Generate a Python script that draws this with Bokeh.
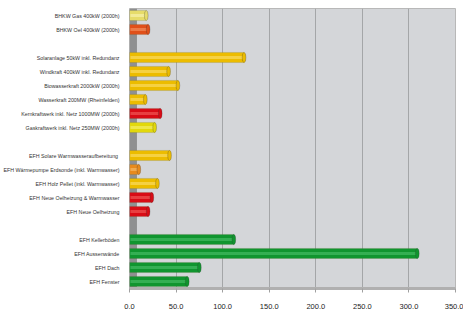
from bokeh.plotting import figure
from bokeh.models import FactorRange, BoxAnnotation, ColumnDataSource, FixedTicker
from bokeh.embed import file_html
from bokeh.resources import INLINE

categories = [
    "BHKW Gas 400kW (2000h)",
    "BHKW Oel 400kW (2000h)",
    " ",
    "Solaranlage 50kW inkl. Redundanz",
    "Windkraft 400kW inkl. Redundanz",
    "Biowasserkraft 2000kW (2000h)",
    "Wasserkraft 200MW (Rheinfelden)",
    "Kernkraftwerk inkl. Netz 1000MW (2000h)",
    "Gaskraftwerk inkl. Netz 250MW (2000h)",
    "  ",
    "EFH Solare  Warmwasseraufbereitung",
    "EFH Wärmepumpe Erdsonde (inkl. Warmwasser)",
    "EFH Holz Pellet (inkl. Warmwasser)",
    "EFH Neue Oelheizung & Warmwasser",
    "EFH Neue Oelheizung",
    "   ",
    "EFH Kellerböden",
    "EFH Aussenwände",
    "EFH Dach",
    "EFH Fenster",
]
values = [18, 20, None, 123, 42, 52, 17, 33, 27, None,
          43, 10, 30, 24, 20, None, 112, 309, 75, 62]
colors = ["#e6dc6a", "#e0501a", None, "#ecbc00", "#ecbc00", "#ecbc00", "#ecbc00",
          "#d80c16", "#e2d80c", None, "#ecbc00", "#e88a1c", "#ecbc00", "#d80c16",
          "#d80c16", None, "#10952f", "#10952f", "#10952f", "#10952f"]
highlights = ["#f6f0a8", "#f08a5a", None, "#f8d85a", "#f8d85a", "#f8d85a", "#f8d85a",
              "#ee5050", "#f2ec60", None, "#f8d85a", "#f4b460", "#f8d85a", "#ee5050",
              "#ee5050", None, "#40b860", "#40b860", "#40b860", "#40b860"]
x_ticks = [0, 50, 100, 150, 200, 250, 300, 350]

cats, vals, cols, hls = [], [], [], []
for c, v, col, h in zip(categories, values, colors, highlights):
    if v is not None:
        cats.append(c); vals.append(v); cols.append(col); hls.append(h)
src = ColumnDataSource(dict(cat=cats, val=vals, col=cols, hl=hls))

p = figure(width=463, height=311, output_backend="svg", toolbar_location=None,
           y_range=FactorRange(factors=list(reversed(categories)), range_padding=0),
           x_range=(0, 350), min_border_left=128, min_border_right=8,
           min_border_top=8, min_border_bottom=0)

p.background_fill_color = "#d4d6d9"
p.border_fill_color = "white"
p.outline_line_color = "#b8b8b8"

p.add_layout(BoxAnnotation(left=0, right=8, fill_color="#8f9091", fill_alpha=1,
                           line_color=None, level="underlay"))

p.hbar(y="cat", left=0, right="val", height=0.72, source=src,
       fill_color="col", line_color="#5a5a30", line_alpha=0.35, line_width=0.5)
p.hbar(y="cat", left=1, right="val", height=0.2, source=src,
       fill_color="hl", line_color=None, fill_alpha=0.75)
p.ellipse(x="val", y="cat", width=4, height=0.72, source=src,
          fill_color="col", line_color="#333333", line_alpha=0.45, line_width=0.6)

p.xgrid.ticker = FixedTicker(ticks=x_ticks)
p.xgrid.grid_line_color = "#a4a6a8"
p.xgrid.grid_line_width = 1
p.ygrid.grid_line_color = None

p.xaxis.ticker = FixedTicker(ticks=x_ticks)
p.xaxis.formatter.use_scientific = False
p.xaxis.major_label_overrides = {t: f"{t:.1f}" for t in x_ticks}
p.xaxis.major_label_text_font = "Liberation Sans"
p.xaxis.major_label_text_font_size = "7.5px"
p.xaxis.major_label_text_color = "#222222"
p.xaxis.axis_line_color = "#b0b0b0"
p.xaxis.axis_line_width = 3
p.xaxis.major_tick_line_color = "#a0a0a0"
p.xaxis.major_tick_in = 0
p.xaxis.major_tick_out = 4
p.xaxis.minor_tick_line_color = None
p.xaxis.major_label_standoff = 11

p.yaxis.major_label_text_font = "Liberation Sans"
p.yaxis.major_label_text_font_size = "5.3px"
p.yaxis.major_label_text_color = "#333333"
p.yaxis.axis_line_color = None
p.yaxis.major_tick_line_color = None
p.yaxis.major_label_standoff = 4

open("out.html", "w").write(file_html(p, INLINE))
